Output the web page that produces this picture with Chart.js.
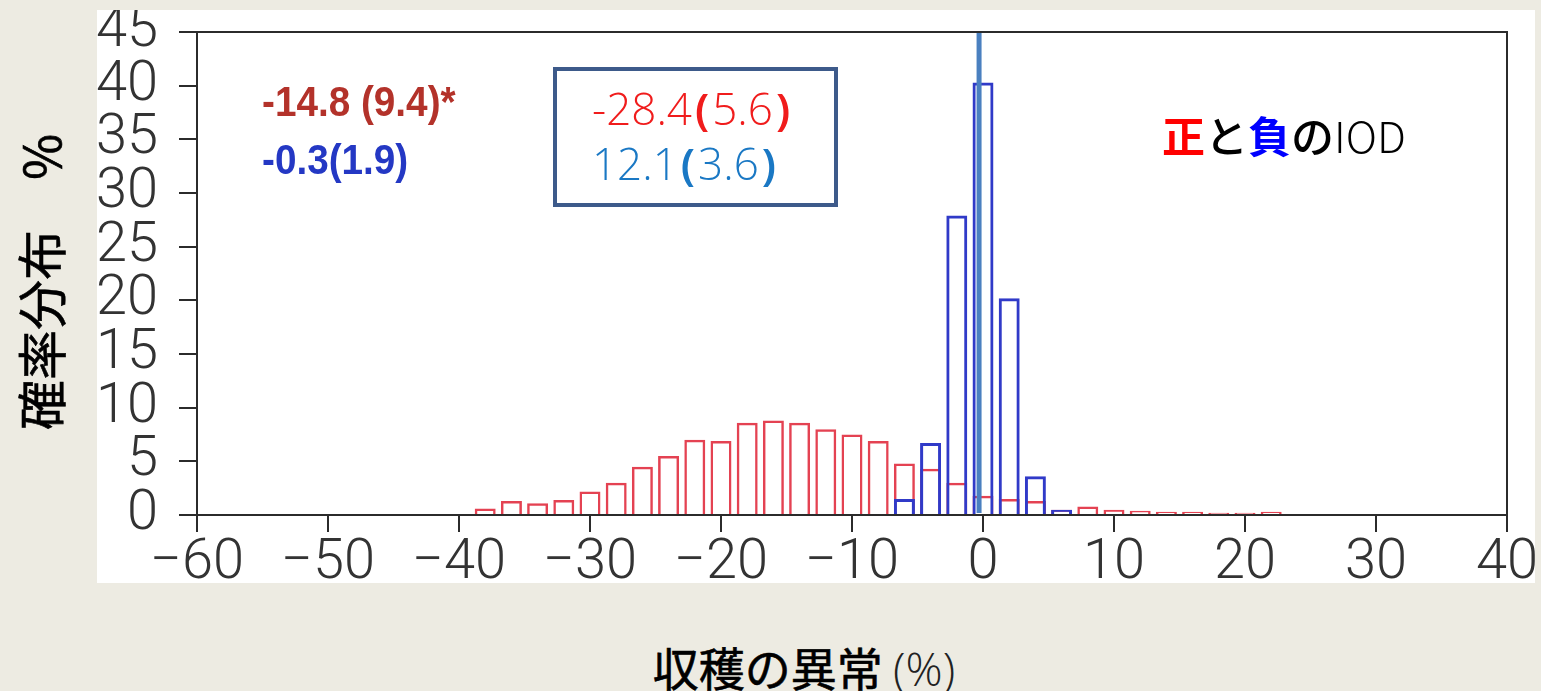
<!DOCTYPE html>
<html lang="ja">
<head>
<meta charset="utf-8">
<title>収穫の異常の確率分布</title>
<script src="https://cdn.jsdelivr.net/npm/chart.js@4.4.1/dist/chart.umd.min.js"></script>
<style>
  html, body { margin: 0; padding: 0; }
  body {
    width: 1541px; height: 691px; position: relative; overflow: hidden;
    background: #edebe2;
    font-family: "Noto Sans CJK JP", "Noto Sans", sans-serif;
  }
  #panel {
    position: absolute; left: 97px; top: 10px; width: 1438px; height: 573px;
    background: #ffffff;
  }
  #ytitle {
    position: absolute; left: 39px; top: 282px;
    transform: translate(-50%, -50%) rotate(-90deg);
    white-space: nowrap; font-size: 50px; font-weight: 400; color: #000;
    line-height: 1; -webkit-text-stroke: 0.6px #000;
  }
  #xtitle {
    position: absolute; left: 804px; top: 667px;
    transform: translate(-50%, -50%);
    white-space: nowrap; font-size: 46px; color: #000; line-height: 1;
  }
  #xtitle b { font-weight: 400; -webkit-text-stroke: 0.6px #000; }
  #xtitle span { font-family: "Open Sans", "Noto Sans", sans-serif; font-weight: 300; color: #222; }
</style>
</head>
<body>
<div id="panel"><canvas id="chart" width="1438" height="573"></canvas></div>
<div id="ytitle">確率分布　%</div>
<div id="xtitle"><b>収穫の異常</b> <span>(%)</span></div>
<script>
// Bin centres (yield anomaly, %) and probability (%) per bin
const posBins = [-38, -36, -34, -32, -30, -28, -26, -24, -22, -20, -18, -16, -14, -12, -10, -8, -6, -4, -2, 0, 2, 4, 6, 8, 10, 12, 14, 16, 18, 20, 22];
const posValues = [0.6, 1.3, 1.1, 1.4, 2.2, 3.0, 4.5, 5.5, 7.0, 6.9, 8.6, 8.8, 8.6, 8.0, 7.5, 6.9, 4.8, 4.3, 3.0, 1.8, 1.5, 1.3, 0.5, 0.8, 0.5, 0.4, 0.3, 0.3, 0.2, 0.2, 0.3];
const negBins = [-6, -4, -2, 0, 2, 4, 6];
const negValues = [1.5, 6.7, 27.9, 40.3, 20.2, 3.6, 0.5];

// Summary statistics: mean (standard deviation)
const posMean = -14.8, posSd = 9.4;
const negMean = -0.3, negSd = 1.9;
const altPosMean = -28.4, altPosSd = 5.6;
const altNegMean = 12.1, altNegSd = 3.6;

// Axis ticks
const xTicks = [-60, -50, -40, -30, -20, -10, 0, 10, 20, 30, 40];
const yTicks = [0, 5, 10, 15, 20, 25, 30, 35, 40, 45];

const OFF_X = 97, OFF_Y = 10; // panel origin on the page
const tickFont = { family: "Roboto, 'Liberation Sans', sans-serif", size: 56, weight: '300', lineHeight: 1 };
const axisColor = '#2b2b2b';

const fmt = v => (v < 0 ? '\u2212' + Math.abs(v) : String(v));

// Frame, mean line and in-plot annotations
const decorations = {
  id: 'decorations',
  afterDatasetsDraw(chart) {
    const { ctx, chartArea: a, scales: { x, y } } = chart;
    ctx.save();
    // mean of the negative-IOD distribution
    const mx = x.getPixelForValue(negMean);
    ctx.strokeStyle = 'rgb(74,128,192)';
    ctx.lineWidth = 5;
    ctx.beginPath();
    ctx.moveTo(mx, a.top);
    ctx.lineTo(mx, y.getPixelForValue(0) - 2);
    ctx.stroke();
    // plot frame
    ctx.strokeStyle = axisColor;
    ctx.lineWidth = 2;
    ctx.strokeRect(a.left, a.top, a.right - a.left, a.bottom - a.top);
    ctx.restore();
  },
  afterDraw(chart) {
    const { ctx } = chart;
    ctx.save();
    ctx.textBaseline = 'middle';
    ctx.textAlign = 'left';

    const runs = (parts, x0, yc) => {
      let xx = x0;
      for (const [txt, font, col, gap] of parts) {
        ctx.font = font; ctx.fillStyle = col;
        xx += gap || 0;
        ctx.fillText(txt, xx, yc);
        xx += ctx.measureText(txt).width + (gap || 0);
      }
    };

    // stats, top-left (bold, condensed)
    const cond = (txt, x0, yc, col) => {
      ctx.save();
      ctx.translate(x0, yc);
      ctx.scale(0.9, 1);
      ctx.font = "bold 43px 'Liberation Sans', sans-serif";
      ctx.fillStyle = col;
      ctx.fillText(txt, 0, 0);
      ctx.restore();
    };
    cond(`${posMean} (${posSd})*`, 262 - OFF_X, 104 - OFF_Y, '#b3322a');
    cond(`${negMean}(${negSd})`, 262 - OFF_X, 162 - OFF_Y, '#2438c4');

    // boxed stats
    ctx.strokeStyle = '#3d5a8a';
    ctx.lineWidth = 4;
    ctx.strokeRect(555 - OFF_X, 69 - OFF_Y, 281, 136);
    const light = "300 44px 'Open Sans', 'Noto Sans', sans-serif";
    const paren = "600 44px 'Noto Sans', sans-serif";
    runs([[String(altPosMean), light, '#f01c1c'], ['(', paren, '#f01c1c', 3], [String(altPosSd), light, '#f01c1c'], [')', paren, '#f01c1c', 3]], 592 - OFF_X, 112 - OFF_Y);
    runs([[String(altNegMean), light, '#1a78c4'], ['(', paren, '#1a78c4', 3], [String(altNegSd), light, '#1a78c4'], [')', paren, '#1a78c4', 3]], 592 - OFF_X, 167 - OFF_Y);

    // legend-like title
    const cjkB = "bold 43px 'Noto Sans CJK JP', sans-serif";
    const cjkM = "500 43px 'Noto Sans CJK JP', sans-serif";
    const lat = "300 43px 'Noto Sans CJK JP', 'Noto Sans', sans-serif";
    runs([['正', cjkB, '#ff0000'], ['と', cjkM, '#000'], ['負', cjkB, '#0000ff'], ['の', cjkM, '#000'], ['IOD', lat, '#000']], 1162 - OFF_X, 137 - OFF_Y);
    ctx.restore();
  }
};

new Chart(document.getElementById('chart'), {
  type: 'bar',
  data: {
    datasets: [
      {
        label: '負のIOD',
        data: negBins.map((b, i) => ({ x: b, y: negValues[i] })),
        backgroundColor: 'rgba(0,0,0,0)',
        borderColor: 'rgb(48,58,200)',
        borderWidth: 3,
        grouped: false,
        barPercentage: 0.8,
        categoryPercentage: 1
      },
      {
        label: '正のIOD',
        data: posBins.map((b, i) => ({ x: b, y: posValues[i] })),
        backgroundColor: 'rgba(0,0,0,0)',
        borderColor: 'rgb(228,66,82)',
        borderWidth: 2.5,
        grouped: false,
        barPercentage: 0.8,
        categoryPercentage: 1
      }
    ]
  },
  options: {
    responsive: false,
    animation: false,
    layout: { padding: { left: 0, right: 28, top: 22, bottom: 0 } },
    plugins: { legend: { display: false }, tooltip: { enabled: false } },
    scales: {
      x: {
        type: 'linear',
        offset: false,
        min: -60, max: 40,
        afterBuildTicks: s => { s.ticks = xTicks.map(v => ({ value: v })); },
        afterFit: s => { s.height = 68; s.paddingLeft = 0; s.paddingRight = 0; },
        ticks: { autoSkip: false, maxRotation: 0, padding: 4, color: '#333', font: tickFont, callback: fmt },
        grid: { offset: false, drawOnChartArea: false, drawTicks: true, tickLength: 17, color: axisColor, lineWidth: 2 },
        border: { display: false }
      },
      y: {
        min: 0, max: 45,
        afterBuildTicks: s => { s.ticks = yTicks.map(v => ({ value: v })); },
        afterFit: s => { s.width = 100; s.paddingTop = 0; s.paddingBottom = 0; },
        ticks: { autoSkip: false, padding: 21, color: '#333', font: tickFont },
        grid: { drawOnChartArea: false, drawTicks: true, tickLength: 18, color: axisColor, lineWidth: 2 },
        border: { display: false }
      }
    }
  },
  plugins: [decorations]
});
</script>
</body>
</html>
